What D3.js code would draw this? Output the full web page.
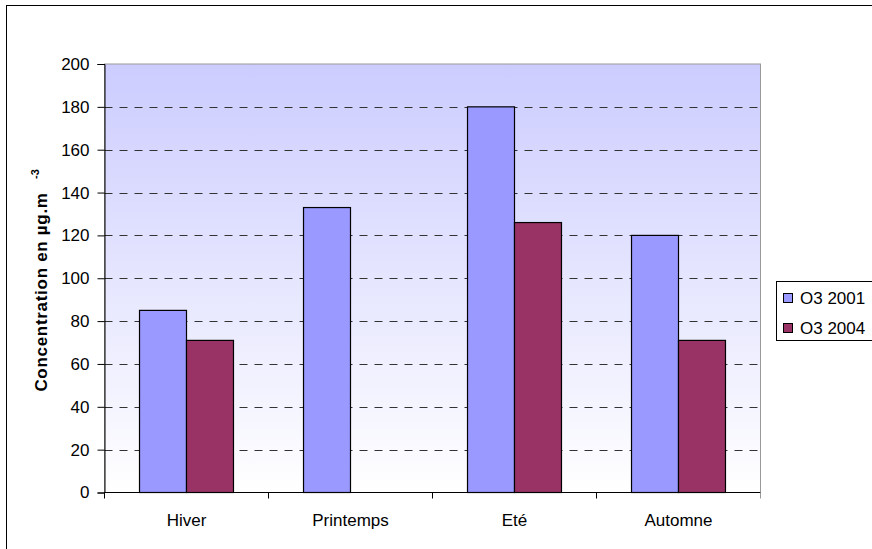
<!DOCTYPE html>
<html>
<head>
<meta charset="utf-8">
<script src="https://cdnjs.cloudflare.com/ajax/libs/d3/7.8.5/d3.min.js"></script>
<style>
    body { margin: 0; background: white; }
    svg { display: block; font-family: 'Liberation Sans', Arial, sans-serif; }
</style>
</head>
<body>
<svg id="chart" width="872" height="549"></svg>
<script>
let seasons = ['Hiver', 'Printemps', 'Eté', 'Automne'];
let seriesNames = ['O3 2001', 'O3 2004'];
let o3_2001 = [85, 133, 180, 120];
let o3_2004 = [71, null, 126, 71];
let yTicks = [0, 20, 40, 60, 80, 100, 120, 140, 160, 180, 200];
let colors = ['#9999FF', '#993366'];

let svg = d3.select('#chart');

// outer chart frame
svg.append('rect')
    .attr('x', 6.5).attr('y', 5.5)
    .attr('width', 880).attr('height', 560)
    .attr('fill', 'white')
    .attr('stroke', 'black');

let plot = {left: 104.5, right: 760.5, top: 64, bottom: 492.5};

// gap width 150% like the original: inner gap = 0.427 of a category
let x = d3.scaleBand()
    .domain(seasons)
    .range([plot.left, plot.right])
    .paddingInner(0.427)
    .paddingOuter(0.2135);

let xSub = d3.scaleBand()
    .domain(seriesNames)
    .range([0, x.bandwidth()]);

let y = d3.scaleLinear()
    .domain([0, 200])
    .range([plot.bottom, plot.top]);

// plot background gradient
let grad = svg.append('defs').append('linearGradient')
    .attr('id', 'bg').attr('x1', 0).attr('y1', 0).attr('x2', 0).attr('y2', 1);
grad.append('stop').attr('offset', '0%').attr('stop-color', '#CCCCFF');
grad.append('stop').attr('offset', '100%').attr('stop-color', '#FFFFFF');

svg.append('rect')
    .attr('x', plot.left).attr('y', plot.top)
    .attr('width', plot.right - plot.left).attr('height', plot.bottom - plot.top)
    .attr('fill', 'url(#bg)')
    .attr('stroke', '#999999');

// dashed gridlines
svg.append('g')
    .selectAll('line')
    .data(yTicks.filter(t => t > 0 && t < 200))
    .enter()
    .append('line')
    .attr('x1', plot.left).attr('x2', plot.right)
    .attr('y1', d => Math.round(y(d)) + 0.5)
    .attr('y2', d => Math.round(y(d)) + 0.5)
    .style('stroke', '#333333')
    .style('stroke-dasharray', '8,7');

// bars
let rows = seasons.map((s, i) => ({season: s, values: [o3_2001[i], o3_2004[i]]}));

svg.append('g')
    .selectAll('g')
    .data(rows)
    .enter()
    .append('g')
    .attr('transform', d => 'translate(' + x(d.season) + ',0)')
    .selectAll('rect')
    .data(d => d.values.map((v, k) => ({name: seriesNames[k], value: v, k: k}))
        .filter(b => b.value !== null))
    .enter()
    .append('rect')
    .attr('x', d => xSub(d.name))
    .attr('y', d => y(d.value))
    .attr('width', xSub.bandwidth())
    .attr('height', d => y(0) - y(d.value))
    .attr('fill', d => colors[d.k])
    .style('stroke', 'black')
    .style('stroke-width', 1.2);

// y axis
let yAxis = svg.append('g')
    .attr('transform', 'translate(' + plot.left + ',0)')
    .call(d3.axisLeft(y).tickValues(yTicks).tickSize(7).tickPadding(8));
yAxis.select('.domain').attr('stroke', 'black');
yAxis.selectAll('.tick line').attr('stroke', 'black');
yAxis.selectAll('.tick text')
    .attr('fill', 'black')
    .style('font-size', '17px')
    .attr('font-family', null);

// x axis with ticks between categories
let xAxis = svg.append('g')
    .attr('transform', 'translate(0,' + plot.bottom + ')');
xAxis.append('line')
    .attr('x1', plot.left).attr('x2', plot.right)
    .style('stroke', 'black');
let step = (plot.right - plot.left) / seasons.length;
xAxis.selectAll('.tick')
    .data(d3.range(seasons.length + 1))
    .enter()
    .append('line')
    .attr('x1', d => plot.left + d * step)
    .attr('x2', d => plot.left + d * step)
    .attr('y1', 0).attr('y2', 6)
    .style('stroke', d => d === seasons.length ? '#999999' : 'black');
xAxis.selectAll('text')
    .data(seasons)
    .enter()
    .append('text')
    .attr('x', d => x(d) + x.bandwidth() / 2)
    .attr('y', 33.5)
    .attr('text-anchor', 'middle')
    .style('font-size', '17px')
    .text(d => d);

// y axis title
svg.append('text')
    .attr('transform', 'translate(47,292) rotate(-90)')
    .attr('text-anchor', 'middle')
    .style('font-size', '17px')
    .style('font-weight', 'bold')
    .style('letter-spacing', '0.7px')
    .text('Concentration en µg.m');
svg.append('text')
    .attr('transform', 'translate(39,179) rotate(-90)')
    .style('font-size', '11px')
    .style('font-weight', 'bold')
    .text('-3');

// legend
let legend = svg.append('g');
legend.append('rect')
    .attr('x', 776.5).attr('y', 281.5)
    .attr('width', 120).attr('height', 59)
    .attr('fill', 'white')
    .style('stroke', 'black');
let items = legend.selectAll('g.item')
    .data(seriesNames)
    .enter()
    .append('g')
    .attr('class', 'item')
    .attr('transform', (d, i) => 'translate(0,' + (i * 30) + ')');
items.append('rect')
    .attr('x', 783.5).attr('y', 293.5)
    .attr('width', 9).attr('height', 9)
    .attr('fill', (d, i) => colors[i])
    .style('stroke', 'black');
items.append('text')
    .attr('x', 800).attr('y', 303.5)
    .style('font-size', '17px')
    .text(d => d);
</script>
</body>
</html>
